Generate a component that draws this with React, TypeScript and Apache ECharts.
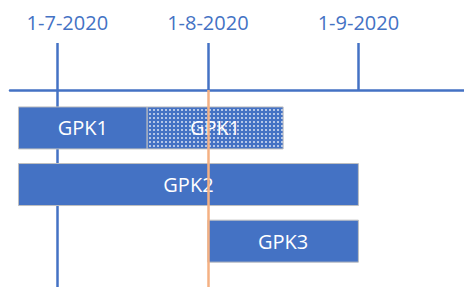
import React, { useEffect, useRef } from 'react';
import * as echarts from 'echarts';

const tickDates = ['2020-07-01', '2020-08-01', '2020-09-01'];
const tickLabels = ['1-7-2020', '1-8-2020', '1-9-2020'];
const taskNames = ['GPK1', 'GPK1', 'GPK2', 'GPK3'];
const taskRows = [0, 0, 1, 2];
const taskStarts = ['2020-06-23T00:00:00', '2020-07-19T12:00:00', '2020-06-23T00:00:00', '2020-08-01T00:00:00'];
const taskEnds = ['2020-07-19T12:00:00', '2020-08-16T12:00:00', '2020-09-01T00:00:00', '2020-09-01T00:00:00'];
const taskPlanned = [false, true, false, false];
const todayDate = '2020-08-01';
const startMarkerDate = '2020-07-01';
const axisMinDate = '2020-06-21T06:00:00';
const axisMaxDate = '2020-09-22T18:00:00';

const BLUE = '#4472C4';
const ORANGE = '#F4B183';
const FONT = 'Open Sans';

const toTs = (s: string) => new Date(s.length === 10 ? s + 'T00:00:00' : s).getTime();

export default function App() {
  const ref = useRef<HTMLDivElement>(null);
  useEffect(() => {
    if (!ref.current) return;
    const chart = echarts.init(ref.current, undefined, { renderer: 'svg' });

    const canvas = document.createElement('canvas');
    canvas.width = 4;
    canvas.height = 4;
    const ctx = canvas.getContext('2d')!;
    ctx.fillStyle = BLUE;
    ctx.fillRect(0, 0, 4, 4);
    ctx.fillStyle = 'rgba(255,255,255,0.6)';
    ctx.fillRect(1, 1, 2, 2);
    const pattern: any = { image: canvas, repeat: 'repeat', imageWidth: 4, imageHeight: 4 };

    const ticks = tickDates.map(toTs);
    const data = taskRows.map((r, i) => [r, toTs(taskStarts[i]), toTs(taskEnds[i])]);

    const option: any = {
      animation: false,
      grid: { left: 10, right: 0, top: 90, bottom: 0, containLabel: false },
      xAxis: {
        type: 'value',
        position: 'top',
        min: toTs(axisMinDate),
        max: toTs(axisMaxDate),
        axisLine: { show: true, onZero: false, lineStyle: { color: BLUE, width: 2.5 } },
        axisTick: {
          show: true,
          customValues: ticks,
          length: 47,
          inside: false,
          lineStyle: { color: BLUE, width: 2.5 },
        },
        axisLabel: {
          show: true,
          customValues: ticks,
          margin: 58,
          color: BLUE,
          fontSize: 20,
          fontFamily: FONT,
          lineHeight: 20,
          formatter: (v: number) => {
            const idx = ticks.indexOf(v);
            if (idx < 0) return '';
            return idx === 0 ? '{s|' + tickLabels[idx] + '}' : tickLabels[idx];
          },
          rich: {
            s: { padding: [0, 0, 0, 20], color: BLUE, fontSize: 20, fontFamily: FONT, lineHeight: 20 },
          },
        },
        splitLine: { show: false },
      },
      yAxis: { type: 'value', inverse: true, min: -0.67, max: 2.81, show: false },
      series: [
        {
          type: 'line',
          data: [],
          z: 1,
          markLine: {
            z: 1,
            silent: true,
            symbol: ['none', 'none'],
            label: { show: false },
            lineStyle: { color: BLUE, width: 2.5, type: 'solid' },
            data: [{ xAxis: toTs(startMarkerDate) }],
          },
        },
        {
          type: 'custom',
          z: 2,
          encode: { x: [1, 2], y: 0 },
          data,
          renderItem: (params: any, api: any) => {
            const i = params.dataIndex;
            const row = api.value(0);
            const p1 = api.coord([api.value(1), row]);
            const p2 = api.coord([api.value(2), row]);
            const h = 42;
            return {
              type: 'rect',
              shape: { x: p1[0], y: p1[1] - h / 2, width: p2[0] - p1[0], height: h },
              style: { fill: taskPlanned[i] ? pattern : BLUE, stroke: '#BFBFBF', lineWidth: 1 },
              textContent: {
                style: { text: taskNames[i], fill: '#FFFFFF', fontSize: 20, fontFamily: FONT },
              },
              textConfig: { position: 'inside' },
            };
          },
          markLine: {
            z: 5,
            silent: true,
            symbol: ['none', 'none'],
            label: { show: false },
            lineStyle: { color: ORANGE, width: 2.5, type: 'solid' },
            data: [{ xAxis: toTs(todayDate) }],
          },
        },
      ],
    };
    chart.setOption(option);
    return () => chart.dispose();
  }, []);
  return <div ref={ref} style={{ position: 'absolute', left: 0, top: 0, width: 464, height: 287 }} />;
}
